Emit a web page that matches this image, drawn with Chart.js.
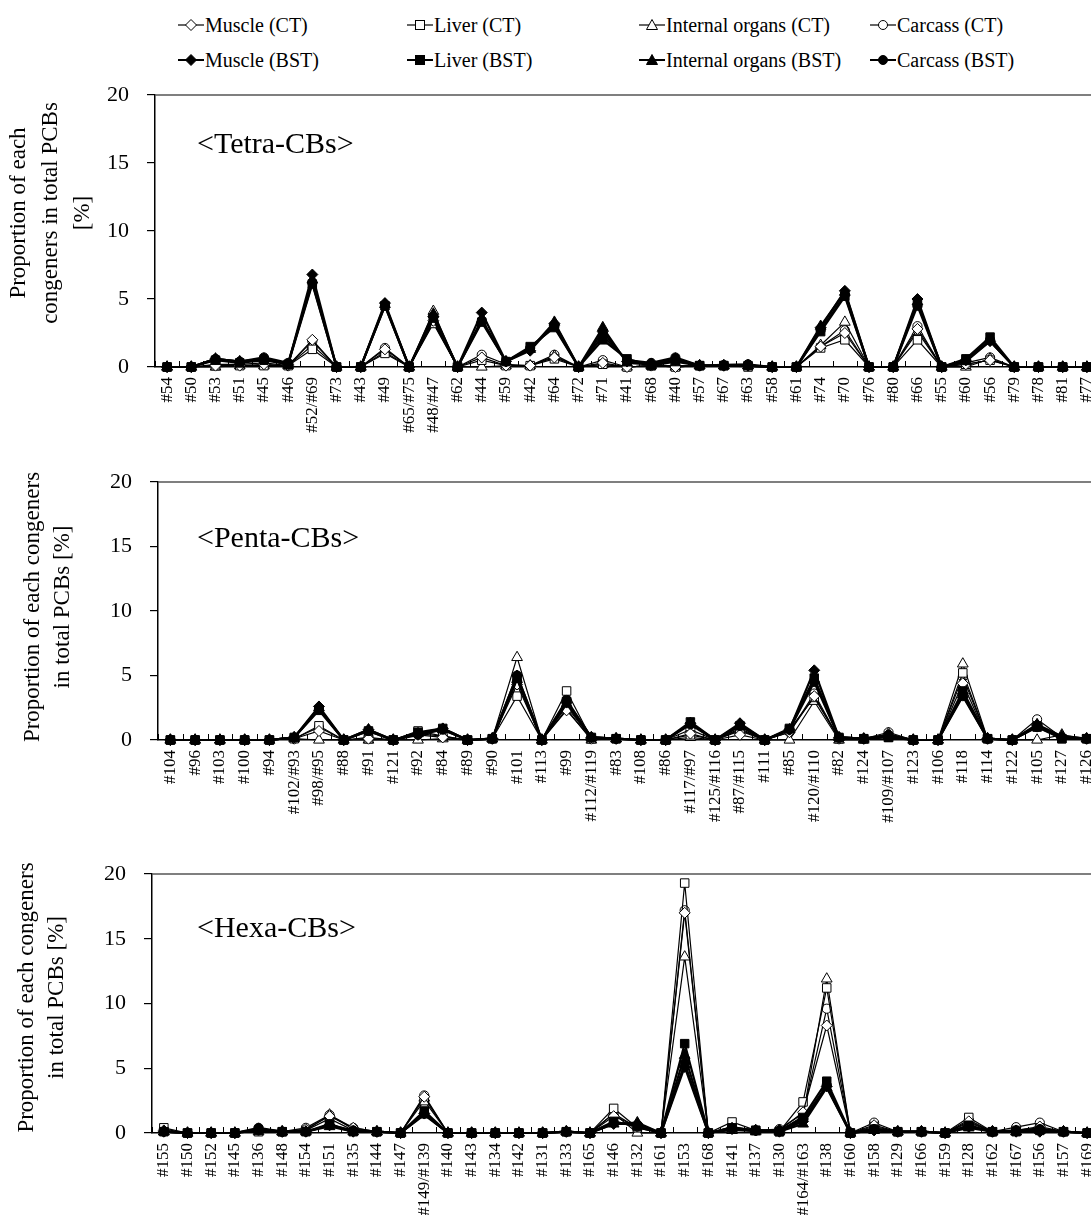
<!DOCTYPE html>
<html>
<head>
<meta charset="utf-8">
<script src="https://cdn.jsdelivr.net/npm/chart.js@4.4.1/dist/chart.umd.min.js"></script>
<style>
  body { margin: 0; width: 1091px; height: 1215px; overflow: hidden; background: #fff; position: relative;
         font-family: 'Liberation Serif', 'Times New Roman', serif; color: #000; }
  canvas { position: absolute; left: 0; }
  .tag { position: absolute; left: 197px; font-size: 30px; line-height: 30px; white-space: nowrap; }
  .leg { position: absolute; height: 24px; display: flex; align-items: center; font-size: 20px; white-space: nowrap; }
  .leg svg { margin-right: 1px; }
</style>
</head>
<body>
<div id="legend"></div>
<canvas id="tetra" width="1110" height="385" style="top:75px"></canvas>
<canvas id="penta" width="1110" height="375" style="top:460px"></canvas>
<canvas id="hexa" width="1110" height="365" style="top:850px"></canvas>
<div class="tag" style="top:128px">&lt;Tetra-CBs&gt;</div>
<div class="tag" style="top:522px">&lt;Penta-CBs&gt;</div>
<div class="tag" style="top:912px">&lt;Hexa-CBs&gt;</div>
<script>
// ---- data (proportion of each congener in total PCBs, %) ----
const seriesNames = ['Muscle (CT)', 'Liver (CT)', 'Internal organs (CT)', 'Carcass (CT)',
                     'Muscle (BST)', 'Liver (BST)', 'Internal organs (BST)', 'Carcass (BST)'];
const yTicks = [0, 5, 10, 15, 20];

const tetraLabels = ['#54','#50','#53','#51','#45','#46','#52/#69','#73','#43','#49','#65/#75','#48/#47','#62','#44','#59','#42','#64','#72','#71','#41','#68','#40','#57','#67','#63','#58','#61','#74','#70','#76','#80','#66','#55','#60','#56','#79','#78','#81','#77'];
const tetraMuscleCT   = [0,0,0.1,0.1,0.2,0.1,2.0,0,0,1.3,0,3.4,0,0.7,0.1,0.1,0.7,0,0.3,0,0.1,0,0.1,0.1,0.1,0,0,1.5,2.5,0,0,2.8,0,0.2,0.5,0,0,0,0];
const tetraLiverCT    = [0,0,0.1,0.1,0.1,0.1,1.3,0,0,1.0,0,3.2,0,0.5,0.1,0.1,0.6,0,0.2,0,0.1,0,0.1,0.1,0,0,0,1.4,2.0,0,0,2.0,0,0.2,0.5,0,0,0,0];
const tetraInternalCT = [0,0,0,0.1,0.1,0.1,1.6,0,0,1.1,0,4.1,0,0,0.1,0.1,0.8,0,0.2,0,0.1,0,0.1,0.1,0.1,0,0,1.6,3.3,0,0,2.6,0,0,0.6,0,0,0,0];
const tetraCarcassCT  = [0,0,0.2,0.2,0.3,0.1,1.9,0,0,1.4,0,3.3,0,0.9,0.2,0.1,0.9,0,0.5,0,0.1,0.1,0.1,0.1,0.1,0,0,1.5,2.7,0,0,3.0,0,0.3,0.7,0,0,0,0];
const tetraMuscleBST  = [0,0,0.6,0.4,0.6,0.2,6.8,0,0,4.7,0,3.7,0,4.0,0.4,1.2,3.2,0,2.6,0.4,0.2,0.5,0.1,0.1,0.1,0,0,2.9,5.6,0,0,5.0,0,0.5,1.9,0,0,0,0];
const tetraLiverBST   = [0,0,0.5,0.3,0.5,0.2,6.1,0,0,4.5,0,3.6,0,3.3,0.4,1.5,2.9,0,2.0,0.6,0.1,0.4,0.1,0.1,0.1,0,0,2.6,5.2,0,0,4.7,0,0.6,2.2,0,0,0,0];
const tetraInternalBST= [0,0,0.6,0.4,0.6,0.2,6.4,0,0,4.6,0,3.9,0,3.5,0.4,1.3,3.3,0,2.9,0.3,0.2,0.6,0.1,0.1,0.1,0,0,3.0,5.5,0,0,4.8,0,0.4,1.9,0,0,0,0];
const tetraCarcassBST = [0,0,0.6,0.4,0.7,0.3,6.2,0,0,4.5,0,3.7,0,3.4,0.4,1.4,3.0,0,2.3,0.5,0.3,0.7,0.1,0.15,0.2,0,0,2.7,5.3,0,0,4.5,0,0.5,2.0,0,0,0,0];

const pentaLabels = ['#104','#96','#103','#100','#94','#102/#93','#98/#95','#88','#91','#121','#92','#84','#89','#90','#101','#113','#99','#112/#119','#83','#108','#86','#117/#97','#125/#116','#87/#115','#111','#85','#120/#110','#82','#124','#109/#107','#123','#106','#118','#114','#122','#105','#127','#126'];
const pentaMuscleCT   = [0,0,0,0,0,0.1,0.7,0,0.1,0,0.4,0.2,0,0.1,4.3,0,2.3,0.1,0.1,0,0,0.5,0,0.4,0,0.6,3.4,0.1,0.1,0.4,0,0,4.4,0.1,0,1.2,0.2,0.1];
const pentaLiverCT    = [0,0,0,0,0,0.1,1.1,0,0.1,0,0.7,0.3,0,0.1,3.4,0,3.8,0.1,0.1,0,0,0.4,0,0.8,0,0.8,3.3,0.1,0.1,0.2,0,0,5.2,0.1,0,1.1,0.1,0.1];
const pentaInternalCT = [0,0,0,0,0,0.1,0,0,0,0,0,0.1,0,0.1,6.4,0,2.4,0,0.1,0,0,0.2,0,0.7,0,0,3.0,0,0,0.5,0,0,5.9,0.1,0,0,0.4,0.1];
const pentaCarcassCT  = [0,0,0,0,0,0.1,1.0,0,0.2,0,0.5,0.3,0,0.1,4.6,0,2.6,0.1,0.1,0,0,0.8,0,0.9,0,0.6,3.6,0.1,0.1,0.6,0,0,4.9,0.1,0,1.6,0.2,0.1];
const pentaMuscleBST  = [0,0,0,0,0,0.2,2.6,0,0.8,0,0.5,0.9,0,0.1,5.0,0,2.9,0.2,0.1,0,0,1.3,0,1.3,0,0.8,5.4,0.2,0.1,0.3,0,0,3.6,0.1,0,1.1,0.2,0.1];
const pentaLiverBST   = [0,0,0,0,0,0.2,2.3,0,0.7,0,0.6,0.9,0,0.1,4.8,0,3.0,0.2,0.1,0,0,1.4,0,1.1,0,0.9,4.8,0.2,0.1,0.2,0,0,3.8,0.1,0,1.0,0.1,0.1];
const pentaInternalBST= [0,0,0,0,0,0.2,2.5,0,0.8,0,0.5,0.8,0,0.1,4.7,0,2.8,0.2,0.1,0,0,1.3,0,1.2,0,0.8,4.7,0.2,0.1,0.3,0,0,3.5,0.1,0,1.2,0.3,0.1];
const pentaCarcassBST = [0,0,0,0,0,0.2,2.4,0,0.7,0,0.4,0.8,0,0.1,5.0,0,3.1,0.2,0.1,0,0,1.2,0,1.1,0,0.8,4.5,0.2,0.1,0.4,0,0,3.4,0.1,0,1.0,0.2,0.1];

const hexaLabels = ['#155','#150','#152','#145','#136','#148','#154','#151','#135','#144','#147','#149/#139','#140','#143','#134','#142','#131','#133','#165','#146','#132','#161','#153','#168','#141','#137','#130','#164/#163','#138','#160','#158','#129','#166','#159','#128','#162','#167','#156','#157','#169'];
const hexaMuscleCT   = [0.2,0,0,0,0.2,0.1,0.3,1.3,0.4,0.1,0,2.8,0,0,0,0,0,0.1,0,1.3,0.5,0,17.0,0,0.3,0.2,0.2,1.6,8.3,0,0.6,0.1,0.1,0,0.9,0.1,0.2,0.5,0.1,0];
const hexaLiverCT    = [0.4,0,0,0,0.1,0.1,0.2,1.1,0.2,0.1,0,2.5,0,0,0,0,0,0.1,0,1.9,0.4,0,19.3,0,0.85,0.2,0.1,2.4,11.2,0,0.5,0.1,0.1,0,1.2,0.1,0.2,0.4,0.1,0];
const hexaInternalCT = [0.1,0,0,0,0.1,0.1,0.2,1.4,0.3,0.1,0,2.7,0,0,0,0,0,0.1,0,1.5,0,0,13.6,0,0.2,0.1,0.2,1.3,11.9,0,0.4,0.1,0.1,0,0.8,0.1,0.1,0.3,0.1,0];
const hexaCarcassCT  = [0.3,0,0,0,0.2,0.1,0.4,1.4,0.4,0.1,0,2.9,0,0,0,0,0,0.1,0,1.5,0.4,0,17.2,0,0.5,0.2,0.3,1.5,9.6,0,0.8,0.1,0.1,0,1.0,0.1,0.45,0.8,0.1,0];
const hexaMuscleBST  = [0.1,0,0,0,0.3,0.1,0.1,0.6,0.1,0.1,0,1.5,0,0,0,0,0,0.1,0,0.7,0.7,0,5.1,0,0.4,0.2,0.1,0.9,3.6,0,0.2,0.1,0.1,0,0.5,0.1,0.1,0.1,0.1,0];
const hexaLiverBST   = [0.1,0,0,0,0.2,0.1,0.1,0.7,0.1,0.1,0,1.7,0,0,0,0,0,0.1,0,0.9,0.5,0,6.9,0,0.4,0.2,0.1,1.2,4.0,0,0.3,0.1,0.1,0,0.6,0.1,0.1,0.2,0.1,0];
const hexaInternalBST= [0.1,0,0,0,0.3,0.1,0.1,0.5,0.1,0.1,0,1.4,0,0,0,0,0,0.1,0,0.7,0.8,0,6.0,0,0.3,0.2,0.1,0.7,3.5,0,0.2,0.1,0.1,0,0.4,0.1,0.1,0.2,0.1,0];
const hexaCarcassBST = [0.1,0,0,0,0.4,0.1,0.1,0.6,0.2,0.1,0,1.5,0,0,0,0,0,0.1,0,0.8,0.6,0,5.4,0,0.3,0.2,0.2,1.0,3.7,0,0.3,0.1,0.1,0,0.5,0.1,0.2,0.3,0.1,0];

// ---- styling ----
const FONT = "'Liberation Serif', 'Times New Roman', serif";
Chart.defaults.font.family = FONT;
Chart.defaults.color = '#000';

const markers = ['rectRot', 'rect', 'triangle', 'circle', 'rectRot', 'rect', 'triangle', 'circle'];
const markerRadius = { rectRot: 5.5, rect: 6, triangle: 6.2, circle: 4.6 };

// top frame line, inward x ticks and the rotated y title
const frame = {
  id: 'frame',
  beforeDatasetsDraw(chart) {
    const { ctx, chartArea: a, scales: { x } } = chart;
    ctx.save();
    ctx.strokeStyle = '#555';
    ctx.lineWidth = 1.5;
    ctx.beginPath();
    ctx.moveTo(a.left, a.top);
    ctx.lineTo(a.right, a.top);
    ctx.stroke();
    const half = (x.getPixelForValue(1) - x.getPixelForValue(0)) / 2;
    ctx.strokeStyle = '#000';
    ctx.lineWidth = 1;
    ctx.beginPath();
    for (let i = 0; i <= x.ticks.length; i++) {
      const px = Math.round(x.getPixelForValue(i) - half) + 0.5;
      ctx.moveTo(px, a.bottom);
      ctx.lineTo(px, a.bottom - 6);
    }
    ctx.stroke();
    ctx.restore();
  },
  afterDraw(chart, args, opts) {
    const { ctx, chartArea: a } = chart;
    ctx.save();
    ctx.font = '23px ' + FONT;
    ctx.fillStyle = '#000';
    ctx.textAlign = 'center';
    ctx.textBaseline = 'middle';
    ctx.translate(opts.x, (a.top + a.bottom) / 2 + opts.dy);
    ctx.rotate(-Math.PI / 2);
    opts.lines.forEach((line, i) => ctx.fillText(line, 0, i * opts.lineHeight));
    ctx.restore();
  }
};

function drawPanel(id, labels, series, box) {
  new Chart(document.getElementById(id), {
    type: 'line',
    data: {
      labels: labels,
      datasets: series.map((vals, i) => {
        const bst = i >= 4;
        return {
          label: seriesNames[i],
          data: vals,
          borderColor: '#000',
          borderWidth: bst ? 2.2 : 1.2,
          pointStyle: markers[i],
          pointRadius: markerRadius[markers[i]],
          pointBackgroundColor: bst ? '#000' : '#fff',
          pointBorderColor: '#000',
          pointBorderWidth: 1,
          tension: 0,
          clip: false,
          order: bst ? 0 : 1
        };
      })
    },
    options: {
      responsive: false,
      animation: false,
      devicePixelRatio: 1,
      layout: { padding: { top: box.padTop, right: 11, left: 0, bottom: 0 } },
      plugins: {
        legend: { display: false },
        tooltip: { enabled: false },
        frame: { lines: box.title, x: box.titleX, lineHeight: box.titleLh, dy: box.titleDy }
      },
      scales: {
        x: {
          offset: true,
          grid: { display: false, drawTicks: false },
          border: { display: true, color: '#000', width: 1.5 },
          ticks: { autoSkip: false, minRotation: 90, maxRotation: 90, padding: 10, font: { size: 17 }, color: '#000' },
          afterFit: s => { s.height = box.xHeight; s.paddingLeft = 0; s.paddingRight = 0; }
        },
        y: {
          min: yTicks[0],
          max: yTicks[yTicks.length - 1],
          afterBuildTicks: s => { s.ticks = yTicks.map(v => ({ value: v })); },
          ticks: { padding: 18, font: { size: 22 }, color: '#000' },
          grid: { drawOnChartArea: false, drawTicks: true, tickLength: 8, color: '#000', lineWidth: 1.2 },
          border: { display: true, color: '#000', width: 1.5 },
          afterFit: s => { s.width = box.yWidth; s.paddingTop = 0; s.paddingBottom = 0; }
        }
      }
    },
    plugins: [frame]
  });
}

drawPanel('tetra', tetraLabels,
  [tetraMuscleCT, tetraLiverCT, tetraInternalCT, tetraCarcassCT, tetraMuscleBST, tetraLiverBST, tetraInternalBST, tetraCarcassBST],
  { padTop: 20, xHeight: 93, yWidth: 155, title: ['Proportion of each', 'congeners in total PCBs', '[%]'], titleX: 19, titleLh: 32, titleDy: -18 });

drawPanel('penta', pentaLabels,
  [pentaMuscleCT, pentaLiverCT, pentaInternalCT, pentaCarcassCT, pentaMuscleBST, pentaLiverBST, pentaInternalBST, pentaCarcassBST],
  { padTop: 22, xHeight: 95, yWidth: 158, title: ['Proportion of each congeners', 'in total PCBs [%]'], titleX: 33, titleLh: 30, titleDy: -4 });

drawPanel('hexa', hexaLabels,
  [hexaMuscleCT, hexaLiverCT, hexaInternalCT, hexaCarcassCT, hexaMuscleBST, hexaLiverBST, hexaInternalBST, hexaCarcassBST],
  { padTop: 24, xHeight: 82, yWidth: 152, title: ['Proportion of each congeners', 'in total PCBs [%]'], titleX: 27, titleLh: 30, titleDy: -6 });

// ---- legend (two rows of four) ----
const legendCols = [178, 407, 639, 870];
const legendRows = [13, 48];
const shapes = {
  rectRot: f => `<polygon points="13,1.5 18.5,7 13,12.5 7.5,7" fill="${f}" stroke="#000" stroke-width="1"/>`,
  rect: f => `<rect x="8.5" y="2.5" width="9" height="9" fill="${f}" stroke="#000" stroke-width="1"/>`,
  triangle: f => `<polygon points="13,1.5 18.5,11.5 7.5,11.5" fill="${f}" stroke="#000" stroke-width="1"/>`,
  circle: f => `<circle cx="13" cy="7" r="4.5" fill="${f}" stroke="#000" stroke-width="1"/>`
};
const legend = document.getElementById('legend');
seriesNames.forEach((name, i) => {
  const bst = i >= 4;
  const div = document.createElement('div');
  div.className = 'leg';
  div.style.left = legendCols[i % 4] + 'px';
  div.style.top = legendRows[bst ? 1 : 0] + 'px';
  div.innerHTML = `<svg width="26" height="14"><line x1="0" y1="7" x2="26" y2="7" stroke="#000" stroke-width="${bst ? 2 : 1.2}"/>` +
    shapes[markers[i]](bst ? '#000' : '#fff') + `</svg><span>${name}</span>`;
  legend.appendChild(div);
});
</script>
</body>
</html>
